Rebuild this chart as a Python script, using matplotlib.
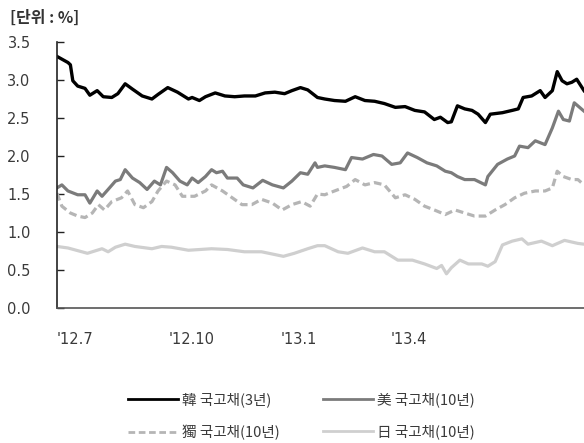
import numpy as np
import pandas as pd
import matplotlib
matplotlib.use("Agg")
import matplotlib.pyplot as plt  # type: ignore

plt.rcParams['font.family'] = ['Noto Sans CJK KR', 'DejaVu Sans']

# Start date of the x axis; every series is given as day offsets from it
start = pd.Timestamp('2012-07-01')

# 韓 국고채(3년)
kr_days = [0, 9, 11, 13, 17, 23, 27, 33, 38, 45, 50, 56, 62, 70, 78, 83, 91, 99, 108, 111,
           117, 122, 130, 138, 146, 154, 163, 171, 179, 187, 193, 200, 206, 214, 220, 228,
           237, 245, 253, 261, 269, 278, 286, 294, 302, 310, 315, 321, 324, 329, 335, 341,
           346, 352, 356, 366, 374, 379, 383, 390, 397, 401, 407, 411, 415, 419, 423, 427, 433]
kr_vals = [3.31, 3.23, 3.20, 2.99, 2.92, 2.89, 2.80, 2.86, 2.78, 2.77, 2.82, 2.95, 2.88, 2.79,
           2.75, 2.81, 2.90, 2.84, 2.75, 2.77, 2.73, 2.78, 2.83, 2.79, 2.78, 2.79, 2.79, 2.83,
           2.84, 2.82, 2.86, 2.90, 2.87, 2.77, 2.75, 2.73, 2.72, 2.78, 2.73, 2.72, 2.69, 2.64,
           2.65, 2.60, 2.58, 2.48, 2.51, 2.44, 2.45, 2.66, 2.62, 2.60, 2.55, 2.44, 2.55, 2.57,
           2.60, 2.62, 2.77, 2.79, 2.86, 2.77, 2.86, 3.11, 2.99, 2.95, 2.97, 3.01, 2.86]

# 美 국고채(10년)
us_days = [0, 4, 9, 17, 23, 27, 33, 37, 42, 48, 52, 56, 62, 68, 74, 80, 85, 90, 95, 101,
           107, 111, 116, 122, 127, 131, 136, 140, 148, 153, 161, 169, 177, 186, 193, 200,
           206, 212, 214, 220, 228, 237, 242, 251, 260, 267, 275, 282, 288, 296, 304, 312,
           319, 324, 329, 335, 343, 352, 354, 362, 370, 376, 380, 387, 393, 401, 407, 412,
           416, 421, 425, 433]
us_vals = [1.58, 1.62, 1.54, 1.49, 1.49, 1.38, 1.54, 1.47, 1.56, 1.67, 1.69, 1.82, 1.71, 1.65,
           1.56, 1.67, 1.62, 1.85, 1.78, 1.67, 1.62, 1.71, 1.65, 1.73, 1.82, 1.78, 1.80, 1.71,
           1.71, 1.62, 1.58, 1.68, 1.62, 1.58, 1.67, 1.78, 1.76, 1.91, 1.85, 1.87, 1.85, 1.82,
           1.98, 1.96, 2.02, 2.00, 1.89, 1.91, 2.04, 1.98, 1.91, 1.87, 1.80, 1.78, 1.73, 1.69,
           1.69, 1.62, 1.73, 1.89, 1.96, 2.00, 2.13, 2.11, 2.20, 2.15, 2.37, 2.59, 2.48, 2.46,
           2.70, 2.59]

# 獨 국고채(10년)
de_days = [0, 4, 11, 17, 23, 29, 34, 39, 45, 53, 58, 64, 71, 78, 83, 90, 97, 103, 113, 122,
           127, 136, 144, 152, 160, 168, 177, 185, 193, 201, 208, 214, 220, 228, 238, 245,
           253, 261, 269, 278, 286, 294, 302, 310, 319, 327, 335, 343, 352, 360, 368, 376,
           384, 393, 401, 407, 411, 416, 423, 428, 433]
de_vals = [1.51, 1.34, 1.25, 1.21, 1.19, 1.25, 1.36, 1.29, 1.40, 1.45, 1.54, 1.36, 1.32, 1.40,
           1.54, 1.67, 1.62, 1.47, 1.47, 1.54, 1.62, 1.54, 1.45, 1.36, 1.36, 1.43, 1.38, 1.29,
           1.36, 1.40, 1.34, 1.50, 1.49, 1.54, 1.60, 1.69, 1.62, 1.65, 1.62, 1.45, 1.49, 1.43,
           1.34, 1.29, 1.23, 1.29, 1.25, 1.21, 1.21, 1.29, 1.36, 1.45, 1.51, 1.54, 1.54, 1.58,
           1.80, 1.73, 1.69, 1.69, 1.62]

# 日 국고채(10년)
jp_days = [0, 9, 25, 37, 42, 48, 56, 64, 78, 86, 94, 108, 127, 140, 154, 168, 186, 195, 206,
           214, 220, 231, 239, 251, 261, 269, 280, 292, 302, 312, 316, 320, 324, 331, 338,
           349, 354, 360, 366, 374, 382, 387, 398, 407, 417, 428, 433]
jp_vals = [0.81, 0.79, 0.72, 0.78, 0.74, 0.80, 0.84, 0.81, 0.78, 0.81, 0.80, 0.76, 0.78, 0.77,
           0.74, 0.74, 0.68, 0.72, 0.78, 0.82, 0.82, 0.74, 0.72, 0.79, 0.74, 0.74, 0.63, 0.63,
           0.58, 0.52, 0.56, 0.45, 0.53, 0.63, 0.58, 0.58, 0.55, 0.61, 0.83, 0.88, 0.91, 0.84,
           0.88, 0.82, 0.89, 0.85, 0.84]

labels = ['韓 국고채(3년)', '美 국고채(10년)', '獨 국고채(10년)', '日 국고채(10년)']
tick_dates = ['2012-07-01', '2012-10-01', '2013-01-01', '2013-04-01']
tick_labels = ["'12.7", "'12.10", "'13.1", "'13.4"]
end_day = 433


def to_dates(days):
    return start + pd.to_timedelta(days, unit='D')


fig = plt.figure(figsize=(5.84, 4.43), dpi=100)
ax = fig.add_axes([0.0976, 0.3047, 0.9024, 0.6005])

l_kr, = ax.plot(to_dates(kr_days), kr_vals, color='#000000', lw=2.4, label=labels[0])
l_us, = ax.plot(to_dates(us_days), us_vals, color='#7b7b7b', lw=2.3, label=labels[1])
l_de, = ax.plot(to_dates(de_days), de_vals, color='#b5b5b5', lw=2.3, ls=(0, (2.4, 1.3)),
                label=labels[2])
l_jp, = ax.plot(to_dates(jp_days), jp_vals, color='#cfcfcf', lw=2.3, label=labels[3])

ax.set_xlim(start, start + pd.Timedelta(days=end_day))
ax.set_ylim(0, 3.5)
ax.set_yticks(np.arange(0, 3.51, 0.5))
ax.set_yticklabels(['%.1f' % v for v in np.arange(0, 3.51, 0.5)], family='DejaVu Sans')
ax.set_xticks(pd.to_datetime(tick_dates))
ax.set_xticklabels(tick_labels, ha='left', family='DejaVu Sans')

for s in ['top', 'right']:
    ax.spines[s].set_visible(False)
ax.spines['left'].set_color('#222222')
ax.spines['bottom'].set_color('#555555')
ax.spines['left'].set_linewidth(1.2)
ax.spines['bottom'].set_linewidth(1.2)

ax.tick_params(axis='y', direction='in', length=5, width=1, color='#222222',
               pad=19, labelsize=10.5, labelcolor='#3a3a3a')
ax.tick_params(axis='x', length=0, pad=17, labelsize=10.5, labelcolor='#3a3a3a')

fig.text(10 / 584, 1 - 18 / 443, '[단위 : %]', fontsize=11.5, fontweight='bold',
         color='#333333', va='center', ha='left')

# row-wise order: 韓, 美 on the first row, 獨, 日 on the second
leg = fig.legend(handles=[l_kr, l_de, l_us, l_jp], ncol=2, loc='upper left',
                 bbox_to_anchor=(128 / 584, 1 - 392 / 443), frameon=False,
                 borderpad=0, borderaxespad=0, handlelength=3.4, handletextpad=0.3,
                 columnspacing=3.0, labelspacing=1.2, fontsize=10.5)
for t in leg.get_texts():
    t.set_color('#3a3a3a')
for h in leg.legend_handles:
    h.set_linewidth(2.0)

fig.savefig('out.png', dpi=100)
